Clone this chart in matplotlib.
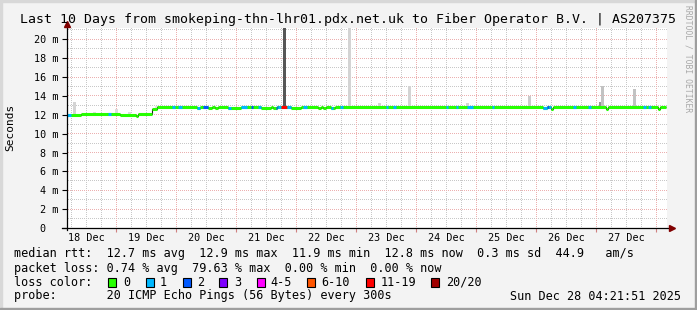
import datetime as dt
import numpy as np
import matplotlib.pyplot as plt
from matplotlib.colors import to_rgba
from matplotlib.patches import Rectangle

# graph window: 10 days ending Sun Dec 28 04:21:51 2025, x in hours since start
START = dt.datetime(2025, 12, 18, 4, 21, 51)
SPAN_H = 240.0
END_H = 239.5
Y_TOP = 21.2

# median rtt (ms), step function: value holds from each start hour
med_start_h = [0.0, 5.6, 21.2, 27.6, 28.4, 34.0, 36.0, 52.0, 53.2, 56.4,
               58.0, 59.2, 60.4, 64.4, 69.6, 77.6, 81.6, 82.4, 84.0, 89.6,
               93.6, 100.4, 101.6, 102.4, 103.6, 105.6, 107.2, 190.4, 192.0, 193.6,
               194.4, 215.6, 216.4, 236.4, 237.2]
med_ms = [11.98, 12.10, 11.95, 11.86, 12.05, 12.60, 12.84, 12.72, 12.84, 12.72,
          12.84, 12.68, 12.82, 12.68, 12.82, 12.68, 12.82, 12.68, 12.82, 12.68,
          12.82, 12.68, 12.82, 12.68, 12.82, 12.68, 12.80, 12.68, 12.80, 12.62,
          12.80, 12.62, 12.80, 12.62, 12.78]

# periods with packet loss (pings lost out of 20)
loss_from_h = [0.0, 16.4, 42.0, 44.4, 52.0, 54.4, 64.4, 69.6, 73.6, 76.4,
               83.6, 84.4, 85.6, 88.0, 94.4, 105.6, 109.2, 127.6, 130.4, 151.6,
               155.6, 160.0, 170.0, 190.4, 192.0, 192.8, 202.4, 208.4, 230.4, 232.4]
loss_to_h = [1.6, 17.6, 43.2, 46.0, 53.2, 56.4, 65.6, 72.0, 74.4, 77.6,
             84.4, 85.6, 88.0, 89.6, 96.0, 106.4, 110.4, 128.4, 131.6, 152.4,
             156.4, 162.4, 170.8, 192.0, 192.8, 193.6, 203.6, 209.6, 231.6, 233.6]
loss_pings = [1, 1, 1, 1, 1, 2, 1, 1, 2, 1,
              2, 1, 16, 1, 1, 1, 1, 1, 1, 1,
              1, 1, 1, 1, 2, 1, 1, 1, 1, 1]

# smoke (spread of the 20 pings): hour, highest rtt, darkness 0..1
smoke_h = [3.0, 10.8, 19.8, 25.0, 35.6, 37.2, 38.8, 86.8, 113.0, 125.0,
           137.0, 160.0, 184.8, 213.2, 214.0, 227.0]
smoke_top_ms = [13.37, 12.25, 12.6, 12.3, 12.95, 12.95, 12.9, 26.0, 26.0, 13.27,
                15.1, 13.3, 14.0, 13.35, 15.0, 14.7]
smoke_density = [0.2, 0.15, 0.15, 0.15, 0.12, 0.12, 0.12, 0.78, 0.2, 0.2,
                 0.2, 0.2, 0.24, 0.5, 0.28, 0.28]

day_labels = ["18 Dec", "19 Dec", "20 Dec", "21 Dec", "22 Dec",
              "23 Dec", "24 Dec", "25 Dec", "26 Dec", "27 Dec"]
y_ticks = [0, 2, 4, 6, 8, 10, 12, 14, 16, 18, 20]
y_labels = ["0  ", "2 m", "4 m", "6 m", "8 m", "10 m", "12 m", "14 m", "16 m", "18 m", "20 m"]

loss_names = ["0", "1", "2", "3", "4-5", "6-10", "11-19", "20/20"]
loss_limits = [0, 1, 2, 3, 5, 10, 19, 20]
loss_colors = ['#26ff00', '#00b8ff', '#0059ff', '#7e00ff', '#ff00ff', '#ff5500', '#ff0000', '#a10000']

MONO = 'DejaVu Sans Mono'
W, H = 697, 310
PW, PH = 600, 200          # plot area in pixels
BG = '#f3f3f3'

fig = plt.figure(figsize=(W / 100, H / 100), dpi=100, facecolor=BG)
ax = fig.add_axes([67 / W, (H - 228) / H, PW / W, PH / H], facecolor='white')
for s in ax.spines.values():
    s.set_visible(False)


def loss_color(n):
    for lim, c in zip(loss_limits, loss_colors):
        if n <= lim:
            return c
    return loss_colors[-1]


def median_at(h):
    i = np.searchsorted(med_start_h, h, side='right') - 1
    return med_ms[max(i, 0)]


# dotted grid as a pixel image (1 px on / 1 px off, like rrdtool)
first_midnight = (dt.datetime(2025, 12, 19) - START).total_seconds() / 3600
midnights = np.arange(first_midnight, SPAN_H, 24)
six_hours = np.arange(first_midnight - 18, SPAN_H, 6)

grid_img = np.zeros((PH, PW, 4))


def grid_h(v, color):
    r = int((Y_TOP - v) / Y_TOP * PH)
    if 0 <= r < PH:
        grid_img[r, 1::2] = to_rgba(color)


def grid_v(h, color):
    c = int(h / SPAN_H * PW)
    if 0 <= c < PW:
        grid_img[::2, c] = to_rgba(color)


for v in range(1, 22, 2):
    grid_h(v, '#c8c8c8')
for h in six_hours:
    grid_v(h, '#c8c8c8')
for v in y_ticks[1:]:
    grid_h(v, '#ecb0b0')
for h in midnights:
    grid_v(h, '#ecb0b0')
ax.imshow(grid_img, extent=(0, SPAN_H, 0, Y_TOP), aspect='auto', interpolation='nearest', zorder=1)

# smoke
for h, top, d in zip(smoke_h, smoke_top_ms, smoke_density):
    g = 1 - 0.85 * d
    base = median_at(h) - 0.15
    ax.bar(h, top - base, bottom=base, width=1.2, color=(g, g, g), linewidth=0, zorder=2)

# median line: thin dark step underneath, thick coloured segments on top
edges = list(med_start_h) + [END_H]
ax.stairs(med_ms, edges, baseline=None, color='#202020', lw=0.8, zorder=3)
ax.hlines(med_ms, edges[:-1], edges[1:], colors=loss_colors[0], lw=2.2, zorder=4)
for a, b, n in zip(loss_from_h, loss_to_h, loss_pings):
    for i in range(len(med_ms)):
        lo, hi = max(a, edges[i]), min(b, edges[i + 1])
        if hi > lo:
            ax.hlines(med_ms[i], lo, hi, colors=loss_color(n), lw=2.2, zorder=5)

ax.set_xlim(0, SPAN_H)
ax.set_ylim(0, Y_TOP)

# axes lines and arrows
ax.plot([-0.008, 1.005], [0, 0], transform=ax.transAxes, color='black', lw=0.9, clip_on=False, zorder=6)
ax.plot([0, 0], [-0.012, 1.01], transform=ax.transAxes, color='black', lw=0.9, clip_on=False, zorder=6)
ax.plot([1.0085], [0], transform=ax.transAxes, marker='>', ms=4.5, color='#800000', clip_on=False, zorder=7)
ax.plot([0], [1.02], transform=ax.transAxes, marker='^', ms=4.5, color='#800000', clip_on=False, zorder=7)

# ticks
noons = first_midnight - 12 + 24 * np.arange(len(day_labels))
ax.set_xticks(noons, day_labels)
ax.set_xticks(midnights, minor=True)
ax.tick_params(axis='x', which='major', length=0, pad=3.5, labelsize=7.3, labelfontfamily=MONO)
ax.tick_params(axis='x', which='minor', length=3, width=0.8, color='#d08080', direction='out')
ax.set_yticks(y_ticks, y_labels)
ax.tick_params(axis='y', which='major', length=3.5, width=0.8, pad=2.5, labelsize=7.3, labelfontfamily=MONO)

fig.text(10.5 / W, 1 - 127 / H, "Seconds", rotation=90, ha='center', va='center',
         fontsize=8, family=MONO)

# title and watermark
fig.text(20 / W, 1 - 19 / H, "Last 10 Days from smokeping-thn-lhr01.pdx.net.uk to Fiber Operator B.V. | AS207375",
         ha='left', va='center', fontsize=9.5, family=MONO)
fig.text(688 / W, 1 - 5 / H, "RRDTOOL / TOBI OETIKER", rotation=270, ha='center', va='top',
         fontsize=5.8, family=MONO, color='#a8a8a8')


def legend_text(xpx, ypx, s, **kw):
    fig.text(xpx / W, 1 - ypx / H, s, va='center', fontsize=8.5, family=MONO, **kw)


legend_text(14.5, 254, "median rtt:  12.7 ms avg  12.9 ms max  11.9 ms min  12.8 ms now  0.3 ms sd  44.9   am/s")
legend_text(14.5, 268.3, "packet loss: 0.74 % avg  79.63 % max  0.00 % min  0.00 % now")
legend_text(14.5, 282.3, "loss color:")
legend_text(14.5, 296, "probe:       20 ICMP Echo Pings (56 Bytes) every 300s")
legend_text(681, 296, "Sun Dec 28 04:21:51 2025", ha='right')

box_x = [108, 145.7, 182.7, 219.3, 256.7, 307.3, 365.7, 430.7]
label_x = [123.3, 160, 197.3, 234.3, 270.7, 321.7, 380.7, 445.7]
for bx, lx, name, c in zip(box_x, label_x, loss_names, loss_colors):
    fig.patches.append(Rectangle((bx / W, 1 - 286.7 / H), 8 / W, 9 / H, transform=fig.transFigure,
                                 facecolor=c, edgecolor='black', lw=0.8, figure=fig))
    legend_text(lx, 282.3, name)

# 3d frame
fig.patches.append(Rectangle((0, 1 - 2 / H), 1, 2 / H, transform=fig.transFigure, color='#d8d8d8', figure=fig))
fig.patches.append(Rectangle((0, 0), 2 / W, 1, transform=fig.transFigure, color='#d8d8d8', figure=fig))
fig.patches.append(Rectangle((1 - 2 / W, 0), 2 / W, 1, transform=fig.transFigure, color='#9e9e9e', figure=fig))
fig.patches.append(Rectangle((0, 0), 1, 2 / H, transform=fig.transFigure, color='#9e9e9e', figure=fig))

fig.savefig("out.png", dpi=100, facecolor=BG)
